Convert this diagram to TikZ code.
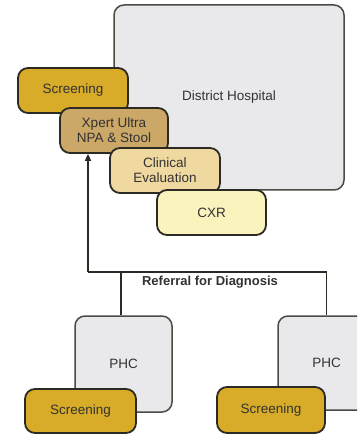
\documentclass[tikz,border=0pt]{standalone}
\usepackage{fontspec}
\setmainfont{Liberation Sans}
\usetikzlibrary{arrows.meta}
\definecolor{scrgold}{RGB}{216,172,40}
\definecolor{xpertan}{RGB}{203,168,104}
\definecolor{clintan}{RGB}{239,217,160}
\definecolor{cxryel}{RGB}{250,243,190}
\definecolor{hospgray}{RGB}{233,233,236}
\definecolor{edge}{RGB}{45,42,35}
\definecolor{txt}{RGB}{50,50,50}
\tikzset{
  box/.style={draw=edge, line width=1.8pt, rounded corners=10pt, inner sep=0pt, align=center,
    text=txt, font=\fontsize{13.5}{15}\selectfont},
  hosp/.style={box, fill=hospgray, line width=1.5pt, draw=edge!85},
  conn/.style={draw=edge, line width=1.8pt},
}
\begin{document}
\begin{tikzpicture}[x=1pt,y=-1pt]
\clip (0,0) rectangle (357,435);
\fill[white] (0,0) rectangle (357,435);
% District hospital cluster
\node[hosp, minimum width=230pt, minimum height=185pt] (dh) at (229,97.5) {District Hospital};
\node[box, fill=scrgold, minimum width=110pt, minimum height=45pt] (scr) at (73,90.5) {Screening};
\node[box, fill=xpertan, minimum width=108pt, minimum height=45pt] (xpert) at (114,130.5) {Xpert Ultra\\NPA \& Stool};
\node[box, fill=clintan, minimum width=110pt, minimum height=45pt] (clin) at (165,170.5) {Clinical\\Evaluation};
\node[box, fill=cxryel, minimum width=109pt, minimum height=45pt] (cxr) at (211.5,212.5) {CXR};
% PHCs
\node[hosp, minimum width=97pt, minimum height=96pt] (phcL) at (123.5,364) {PHC};
\node[box, fill=scrgold, minimum width=111pt, minimum height=44pt] (scrL) at (80.5,411) {Screening};
\node[hosp, minimum width=97pt, minimum height=94pt] (phcR) at (326.5,363) {PHC};
\node[box, fill=scrgold, minimum width=108pt, minimum height=46pt] (scrR) at (271,410) {Screening};
% connectors
\coordinate (j) at (88,272);
\coordinate (jl) at (121,272);
\draw[conn] (phcL.north -| jl) -- (jl);
\draw[conn] (j) -- (j -| phcR.north) -- (phcR.north);
\draw[conn, -{Triangle[length=7pt,width=6pt]}] (j) -- (j |- xpert.south);
\node[text=txt, font=\bfseries\fontsize{13}{15}\selectfont] (ref) at (210,282) {Referral for Diagnosis};
\end{tikzpicture}
\end{document}
